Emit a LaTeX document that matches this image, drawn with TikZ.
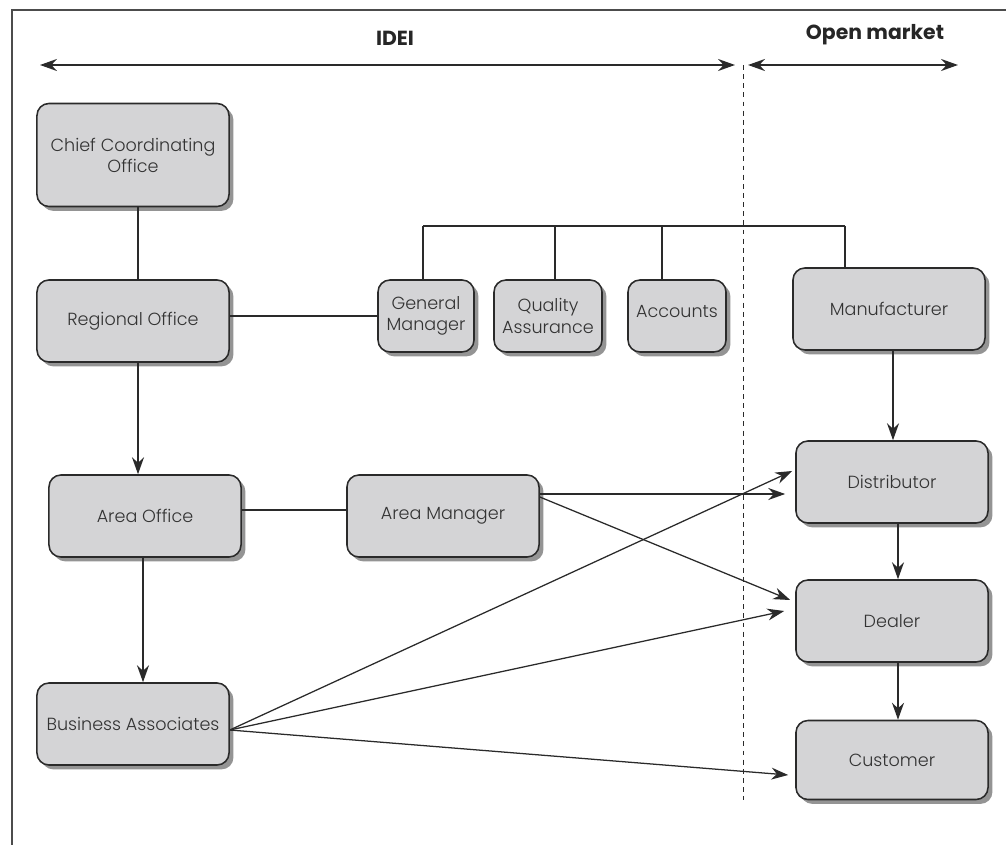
\documentclass[tikz,border=0pt]{standalone}
\usepackage{fontspec}
\setmainfont{Poppins}[UprightFont={* Light}, BoldFont={* Bold}]
\usetikzlibrary{arrows.meta,shadows}

\definecolor{boxfill}{HTML}{D4D4D6}
\definecolor{boxline}{HTML}{2A2A2A}
\definecolor{textgray}{HTML}{333333}

\begin{document}
\begin{tikzpicture}[
    x=0.025cm, y=-0.025cm,
    every node/.style={inner sep=2pt, font=\fontsize{12.5}{15}\selectfont, text=textgray},
    unit/.style={draw=boxline, line width=1.1pt, fill=boxfill, rounded corners=0.3cm, align=center,
        drop shadow={shadow xshift=0.11cm, shadow yshift=-0.11cm, fill=black!60, opacity=0.7}},
    big/.style={unit, minimum width=4.8cm, minimum height=2.05cm},
    small/.style={unit, minimum height=1.8cm, inner sep=1pt},
    link/.style={draw=boxline, line width=1.3pt},
    arr/.style={link, -{Stealth[length=12pt,width=8.5pt]}},
    thin/.style={draw=boxline, line width=0.9pt, -{Stealth[length=12pt,width=8.5pt]}},
    span/.style={draw=boxline, line width=1.6pt, {Stealth[length=12pt,width=8.5pt]}-{Stealth[length=12pt,width=8.5pt]}},
    head/.style={font=\fontsize{14.5}{17}\selectfont\bfseries, text=black!85}
]
    \useasboundingbox (0,0) rectangle (1006,845);

    % 1. Frame and headings
    \draw[draw=black!70, line width=0.8pt] (12,845) -- (12,10) -- (1006,10);
    \node[head] (idei) at (395,38) {IDEI};
    \node[head] (open) at (875,35) {Open market};
    \coordinate (ideiL) at (40,65);
    \coordinate (ideiR) at (735,65);
    \coordinate (openL) at (748,65);
    \coordinate (openR) at (958,65);
    \draw[span] (ideiL) -- (ideiR);
    \draw[span] (openL) -- (openR);
    \coordinate (divT) at (743,65);
    \coordinate (divB) at (743,800);
    \draw[draw=boxline, line width=0.7pt, dash pattern=on 3.5pt off 3pt] (divT) -- (divB);

    % 2. Define the nodes
    \node[big, minimum height=2.575cm] (cco) at (133,155) {Chief Coordinating\\Office};
    \node[big] (reg) at (133,321) {Regional Office};
    \node[small, minimum width=2.4cm] (gm) at (426,316) {General\\Manager};
    \node[small, minimum width=2.7cm] (qa) at (548,316) {Quality\\Assurance};
    \node[small, minimum width=2.45cm] (acc) at (677,316) {\raisebox{0.25cm}{Accounts}};
    \node[big] (man) at (889,309) {Manufacturer};
    \node[big] (ao) at (145,516) {Area Office};
    \node[big] (am) at (443,516) {Area Manager};
    \node[big] (ba) at (133,724) {Business Associates};
    \node[big] (dist) at (892,482) {Distributor};
    \node[big] (deal) at (892,621) {Dealer};
    \node[big, minimum height=1.975cm] (cust) at (892,760) {Customer};

    % 3. Bus over the staff units
    \coordinate (busL) at (423,226);
    \coordinate (busR) at (845,226);
    \coordinate (qaT) at (555,226);
    \coordinate (accT) at (662,226);
    \draw[link] (busL) -- (busR);
    \draw[link] (busL) -- (busL |- gm.north);
    \draw[link] (qaT) -- (qaT |- qa.north);
    \draw[link] (accT) -- (accT |- acc.north);
    \draw[link] (busR) -- (busR |- man.north);

    % 4. Chain of offices
    \draw[link] ([xshift=0.125cm]cco.south) -- ([xshift=0.125cm]reg.north);
    \draw[link] (reg.east |- gm.west) -- (gm.west);
    \draw[arr] ([xshift=0.125cm]reg.south) -- ([xshift=0.125cm]reg.south |- ao.north);
    \draw[link] ([yshift=0.15cm]ao.east) -- ([yshift=0.15cm]ao.east -| am.west);
    \draw[arr] ([xshift=-0.05cm]ao.south) -- ([xshift=-0.05cm]ao.south |- ba.north);

    % 5. Open market chain
    \draw[arr] ([xshift=0.1cm]man.south) -- ([xshift=0.1cm]man.south |- dist.north);
    \draw[arr] ([xshift=0.15cm]dist.south) -- ([xshift=0.15cm]dist.south |- deal.north);
    \draw[arr] ([xshift=0.15cm]deal.south) -- ([xshift=0.15cm]deal.south |- cust.north);

    % 6. Crossing links
    \draw[arr] ([yshift=0.55cm]am.east) -- ([xshift=-0.25cm,yshift=-0.3cm]dist.west);
    \draw[thin] ([yshift=0.475cm]am.east) -- ([xshift=-0.125cm,yshift=0.525cm]deal.west);
    \draw[thin] ([yshift=-0.15cm]ba.east) -- ([xshift=-0.075cm,yshift=0.275cm]dist.west);
    \draw[thin] ([yshift=-0.15cm]ba.east) -- ([xshift=-0.275cm,yshift=0.25cm]deal.west);
    \draw[thin] ([yshift=-0.15cm]ba.east) -- ([xshift=-0.175cm,yshift=-0.375cm]cust.west);

\end{tikzpicture}
\end{document}
